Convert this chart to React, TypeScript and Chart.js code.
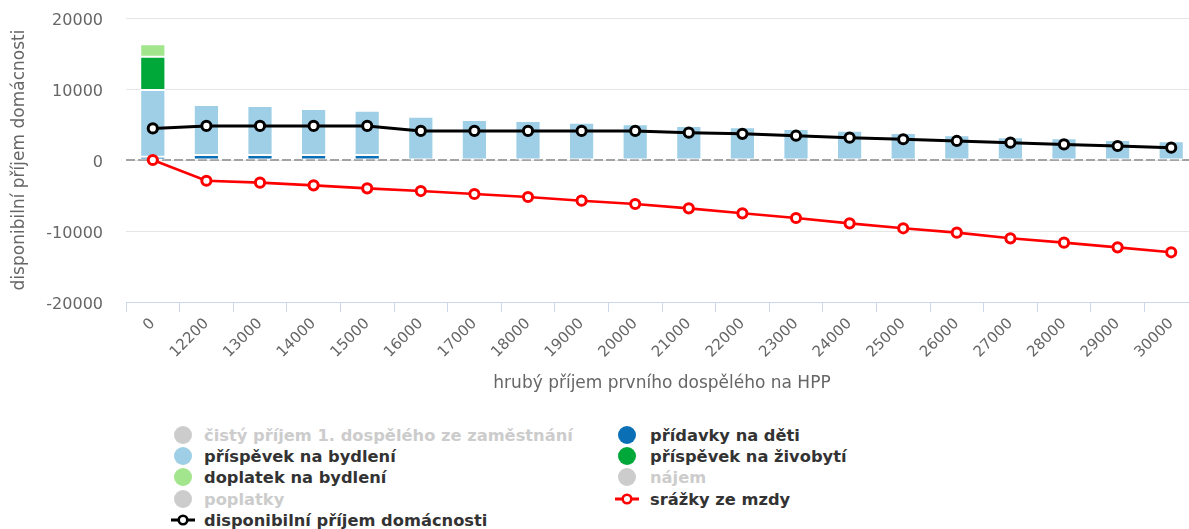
import React, { useEffect, useRef } from 'react';
import { Chart, registerables } from 'chart.js';

Chart.register(...registerables);

// ---- data ----
const categories = [
  '0', '12200', '13000', '14000', '15000', '16000', '17000', '18000', '19000', '20000',
  '21000', '22000', '23000', '24000', '25000', '26000', '27000', '28000', '29000', '30000',
];

const pridavkyNaDeti = [450, 700, 700, 700, 700, 0, 0, 0, 0, 0, 0, 0, 0, 0, 0, 0, 0, 0, 0, 0];
const prispevekNaBydleni = [
  9410, 7050, 6900, 6480, 6250, 6100, 5630, 5490, 5260, 5020,
  4790, 4600, 4370, 4130, 3800, 3470, 3190, 3050, 2820, 2630,
];
const prispevekNaZivobyti = [4690, 0, 0, 0, 0, 0, 0, 0, 0, 0, 0, 0, 0, 0, 0, 0, 0, 0, 0, 0];
const doplatekNaBydleni = [1740, 0, 0, 0, 0, 0, 0, 0, 0, 0, 0, 0, 0, 0, 0, 0, 0, 0, 0, 0];
const disponibilniPrijem = [
  4450, 4800, 4800, 4800, 4800, 4100, 4100, 4100, 4100, 4100,
  3850, 3680, 3420, 3150, 2920, 2680, 2440, 2200, 1970, 1740,
];
const srazkyZeMzdy = [
  0, -2920, -3190, -3570, -3990, -4370, -4790, -5210, -5730, -6200,
  -6810, -7510, -8170, -8920, -9620, -10230, -11030, -11640, -12300, -13000,
];

const yTicks = [-20000, -10000, 0, 10000, 20000];

const yTitle = 'disponibilní příjem domácnosti';
const xTitle = 'hrubý příjem prvního dospělého na HPP';

// legend entries in row-major order (2 columns)
const legendNames = [
  'čistý příjem 1. dospělého ze zaměstnání',
  'přídavky na děti',
  'příspěvek na bydlení',
  'příspěvek na živobytí',
  'doplatek na bydlení',
  'nájem',
  'poplatky',
  'srážky ze mzdy',
  'disponibilní příjem domácnosti',
];
const legendKinds = ['bar', 'bar', 'bar', 'bar', 'bar', 'bar', 'bar', 'line', 'line'];
const legendHidden = [true, false, false, false, false, true, true, false, false];

// ---- styles ----
const COLORS: Record<string, string> = {
  'čistý příjem 1. dospělého ze zaměstnání': '#cccccc',
  'přídavky na děti': '#0b6fb6',
  'příspěvek na bydlení': '#9ecfe6',
  'příspěvek na živobytí': '#00a83a',
  'doplatek na bydlení': '#a2e58c',
  'nájem': '#cccccc',
  'poplatky': '#cccccc',
  'srážky ze mzdy': '#ff0000',
  'disponibilní příjem domácnosti': '#000000',
};

const FONT = "'DejaVu Sans', sans-serif";

const zeroLinePlugin = {
  id: 'zeroLine',
  beforeDatasetsDraw(chart: any) {
    const { ctx, chartArea, scales } = chart;
    const y = scales.y.getPixelForValue(0);
    ctx.save();
    ctx.strokeStyle = '#a3a3a3';
    ctx.lineWidth = 2;
    ctx.setLineDash([9, 3]);
    ctx.beginPath();
    ctx.moveTo(chartArea.left, y);
    ctx.lineTo(chartArea.right, y);
    ctx.stroke();
    ctx.restore();
  },
};

function barDataset(label: string, data: number[]) {
  return {
    type: 'bar' as const,
    label,
    data,
    backgroundColor: COLORS[label],
    borderColor: '#ffffff',
    borderWidth: 1,
    borderSkipped: false,
    categoryPercentage: 1,
    barPercentage: 0.47,
    order: 1,
  };
}

function lineDataset(label: string, data: number[], width: number) {
  return {
    type: 'line' as const,
    label,
    data,
    borderColor: COLORS[label],
    borderWidth: width,
    pointRadius: 4.6,
    pointHoverRadius: 4.6,
    pointBorderWidth: 3,
    pointBackgroundColor: '#ffffff',
    pointBorderColor: COLORS[label],
    tension: 0,
    fill: false,
    order: 0,
    stack: label,
  };
}

function LegendSymbol({ kind, color }: { kind: string; color: string }) {
  if (kind === 'line') {
    return (
      <svg width={26} height={20} style={{ display: 'block' }}>
        <line x1={1} y1={10} x2={25} y2={10} stroke={color} strokeWidth={3} />
        <circle cx={13} cy={10} r={4.3} fill="#ffffff" stroke={color} strokeWidth={2.6} />
      </svg>
    );
  }
  return (
    <svg width={26} height={20} style={{ display: 'block' }}>
      <circle cx={13} cy={10} r={9} fill={color} />
    </svg>
  );
}

export default function App() {
  const ref = useRef<HTMLCanvasElement>(null);

  useEffect(() => {
    if (!ref.current) return;
    const chart = new Chart(ref.current, {
      data: {
        labels: categories,
        datasets: [
          barDataset('přídavky na děti', pridavkyNaDeti),
          barDataset('příspěvek na bydlení', prispevekNaBydleni),
          barDataset('příspěvek na živobytí', prispevekNaZivobyti),
          barDataset('doplatek na bydlení', doplatekNaBydleni),
          lineDataset('srážky ze mzdy', srazkyZeMzdy, 2.6),
          lineDataset('disponibilní příjem domácnosti', disponibilniPrijem, 3),
        ] as any,
      },
      options: {
        responsive: false,
        animation: false,
        devicePixelRatio: 1,
        layout: { padding: { left: 0, top: 18, right: 12, bottom: 0 } },
        plugins: {
          legend: { display: false },
          tooltip: { enabled: false },
        },
        scales: {
          x: {
            stacked: true,
            offset: true,
            afterFit: (s: any) => {
              s.height = 98;
            },
            grid: {
              drawOnChartArea: false,
              drawTicks: true,
              tickLength: 10,
              color: '#ccd6eb',
              tickColor: '#ccd6eb',
              offset: true,
            },
            border: { display: true, color: '#ccd6eb', width: 1 },
            ticks: {
              autoSkip: false,
              minRotation: 45,
              maxRotation: 45,
              padding: 3,
              color: '#666666',
              font: { family: FONT, size: 15 },
            },
            title: {
              display: true,
              text: xTitle,
              color: '#666666',
              font: { family: FONT, size: 17 },
              padding: { top: 0, bottom: 6 },
            },
          },
          y: {
            stacked: true,
            min: -20000,
            max: 20000,
            afterFit: (s: any) => {
              s.width = 126;
            },
            afterBuildTicks: (s: any) => {
              s.ticks = yTicks.map((v) => ({ value: v }));
            },
            grid: {
              drawTicks: true,
              tickLength: 20,
              tickColor: 'rgba(0,0,0,0)',
              color: '#e6e6e6',
              lineWidth: 1,
            },
            border: { display: false },
            ticks: {
              padding: 3,
              labelOffset: 2.5,
              color: '#666666',
              font: { family: FONT, size: 16 },
              callback: (v: any) => String(v),
            },
            title: {
              display: true,
              text: yTitle,
              color: '#666666',
              font: { family: FONT, size: 17 },
              padding: { top: 9, bottom: 0 },
            },
          },
        },
      },
      plugins: [zeroLinePlugin],
    } as any);
    return () => chart.destroy();
  }, []);

  const colX = [170, 614];
  const textX = [204, 650];
  const rowY0 = 435;
  const rowStep = 21.2;

  return (
    <div
      style={{
        position: 'fixed',
        left: 0,
        top: 0,
        width: 1189,
        height: 529,
        overflow: 'hidden',
        background: '#ffffff',
        fontFamily: FONT,
      }}
    >
      <canvas
        ref={ref}
        width={1210}
        height={400}
        style={{ position: 'absolute', left: 0, top: 0, width: 1210, height: 400 }}
      />
      {legendNames.map((name, i) => {
        const col = i % 2;
        const row = Math.floor(i / 2);
        const cy = rowY0 + row * rowStep;
        const hidden = legendHidden[i];
        const color = hidden ? '#cccccc' : COLORS[name];
        return (
          <React.Fragment key={name}>
            <div style={{ position: 'absolute', left: colX[col], top: cy - 10 }}>
              <LegendSymbol kind={legendKinds[i]} color={color} />
            </div>
            <div
              style={{
                position: 'absolute',
                left: textX[col],
                top: cy - 9,
                height: 20,
                lineHeight: '20px',
                whiteSpace: 'nowrap',
                fontSize: 16.3,
                fontWeight: 'bold',
                color: hidden ? '#cccccc' : '#333333',
              }}
            >
              {name}
            </div>
          </React.Fragment>
        );
      })}
    </div>
  );
}
